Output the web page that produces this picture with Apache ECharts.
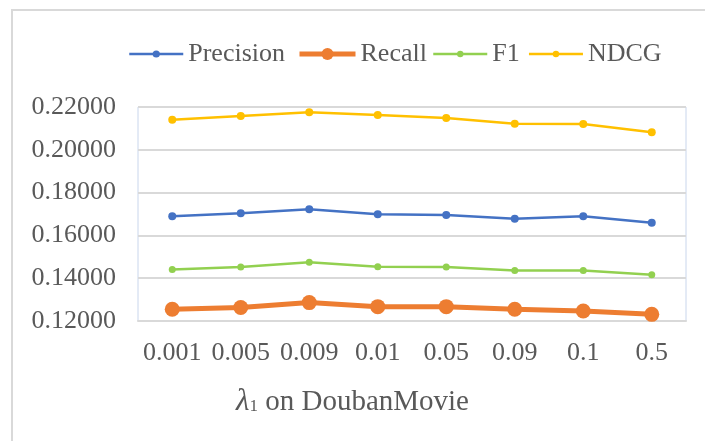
<!DOCTYPE html>
<html>
<head>
<meta charset="utf-8">
<script src="https://cdn.jsdelivr.net/npm/echarts@6/dist/echarts.min.js"></script>
<style>html,body{margin:0;padding:0;background:#fff}#c{width:705px;height:441px}</style>
</head>
<body>
<div id="c"></div>
<script>
const categories = ['0.001', '0.005', '0.009', '0.01', '0.05', '0.09', '0.1', '0.5'];
const precision = [0.1690, 0.1704, 0.1722, 0.1699, 0.1695, 0.1678, 0.1690, 0.1659];
const recall    = [0.1255, 0.1263, 0.1286, 0.1267, 0.1267, 0.1255, 0.1247, 0.1231];
const f1        = [0.1441, 0.1452, 0.1475, 0.1453, 0.1452, 0.1436, 0.1436, 0.1416];
const ndcg      = [0.2140, 0.2158, 0.2175, 0.2163, 0.2149, 0.2122, 0.2121, 0.2082];
const yTicks = [0.12, 0.14, 0.16, 0.18, 0.20, 0.22];

const FONT = "'Liberation Serif', 'Times New Roman', serif";
const TXT = '#595959';
const legendText = {fontFamily: FONT, fontSize: 26, color: TXT};

const chart = echarts.init(document.getElementById('c'), null, {renderer: 'canvas'});
chart.setOption({
  animation: false,
  backgroundColor: '#ffffff',
  graphic: [{
    type: 'rect', silent: true, z: -10,
    shape: {x: 12, y: 10, width: 900, height: 600},
    style: {fill: 'none', stroke: '#d9d9d9', lineWidth: 2}
  }],
  title: {
    text: '{l|λ}{s|1}{t| on DoubanMovie}',
    left: 'center',
    top: 381,
    textStyle: {
      fontWeight: 'normal',
      rich: {
        l: {fontFamily: FONT, fontSize: 31, fontWeight: 'normal', color: TXT, fontStyle: 'italic', lineHeight: 31, verticalAlign: 'bottom'},
        s: {fontFamily: FONT, fontSize: 17, fontWeight: 'normal', color: TXT, lineHeight: 17, verticalAlign: 'bottom', padding: [0, 0, 2, 0]},
        t: {fontFamily: FONT, fontSize: 29, fontWeight: 'normal', color: TXT, lineHeight: 29, verticalAlign: 'bottom'}
      }
    }
  },
  legend: [
    {left: 123, top: 36, itemWidth: 54, itemHeight: 9, textStyle: legendText,
      data: [{name: 'Precision', lineStyle: {width: 2.5, color: '#4472C4'}}]},
    {left: 292, top: 36, itemWidth: 56, itemHeight: 15, textStyle: legendText,
      data: [{name: 'Recall', lineStyle: {width: 5, color: '#ED7D31'}}]},
    {left: 427, top: 36, itemWidth: 54, itemHeight: 8, itemGap: 8, textStyle: legendText,
      data: [{name: 'F1', lineStyle: {width: 2.5, color: '#92D050'}},
             {name: 'NDCG', lineStyle: {width: 2.5, color: '#FFC000'}}]}
  ],
  grid: {
    left: 138, right: 19, top: 107, bottom: 120,
    show: true, borderColor: '#c9d6ec', borderWidth: 1, backgroundColor: 'transparent'
  },
  xAxis: {
    type: 'category',
    data: categories,
    boundaryGap: true,
    axisLine: {show: true, lineStyle: {color: '#d9d9d9', width: 2}},
    axisTick: {show: false},
    axisLabel: {fontFamily: FONT, fontSize: 26, color: TXT, margin: 19, interval: 0}
  },
  yAxis: {
    type: 'value',
    min: yTicks[0],
    max: yTicks[yTicks.length - 1],
    interval: 0.02,
    axisLine: {show: false},
    axisTick: {show: false},
    splitLine: {show: true, lineStyle: {color: '#d9d9d9', width: 2}},
    axisLabel: {fontFamily: FONT, fontSize: 26, color: TXT, margin: 22,
      formatter: v => v.toFixed(5)}
  },
  series: [
    {name: 'Precision', type: 'line', data: precision, symbol: 'circle', symbolSize: 8,
      itemStyle: {color: '#4472C4'}, lineStyle: {color: '#4472C4', width: 2.5}},
    {name: 'Recall', type: 'line', data: recall, symbol: 'circle', symbolSize: 15,
      itemStyle: {color: '#ED7D31'}, lineStyle: {color: '#ED7D31', width: 5}},
    {name: 'F1', type: 'line', data: f1, symbol: 'circle', symbolSize: 7,
      itemStyle: {color: '#92D050'}, lineStyle: {color: '#92D050', width: 2.5}},
    {name: 'NDCG', type: 'line', data: ndcg, symbol: 'circle', symbolSize: 8,
      itemStyle: {color: '#FFC000'}, lineStyle: {color: '#FFC000', width: 2.5}}
  ]
});
</script>
</body>
</html>
